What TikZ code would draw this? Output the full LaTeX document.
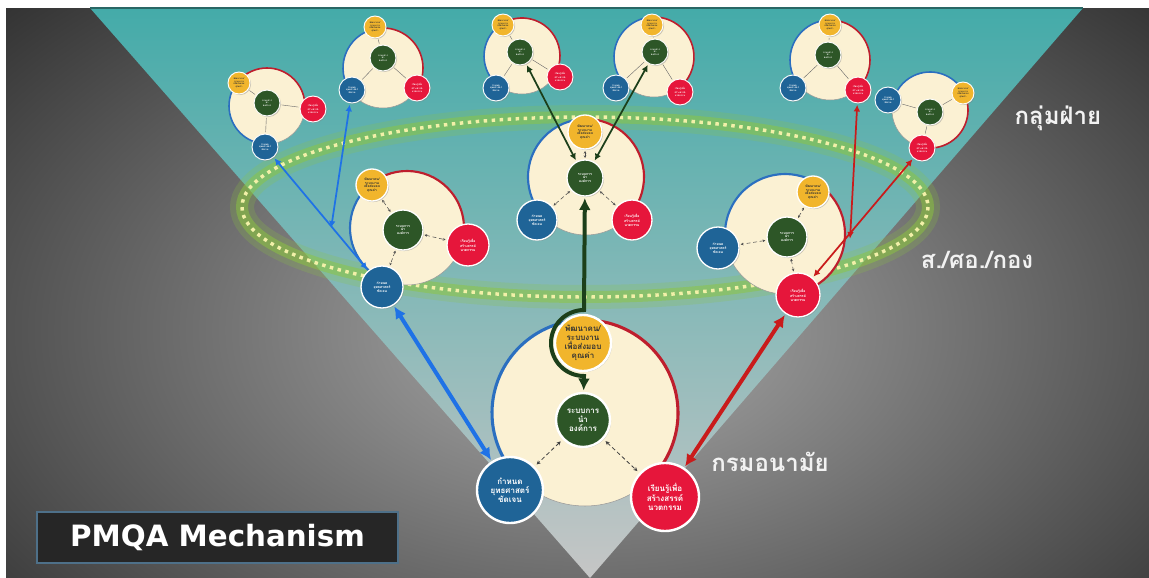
\documentclass[tikz,border=0pt]{standalone}
\usepackage{fontspec}
\usetikzlibrary{arrows.meta,shadows}
\newfontfamily\thai[Script=Thai]{Loma}
\newfontfamily\headfont{DejaVu Sans}

\definecolor{cream}{HTML}{FBF1D3}
\definecolor{leaf}{HTML}{2D5627}
\definecolor{sun}{HTML}{F1B52C}
\definecolor{sea}{HTML}{1F6497}
\definecolor{rose}{HTML}{E6163B}
\definecolor{arcblue}{HTML}{2B6FC0}
\definecolor{arcred}{HTML}{BE1E2D}
\definecolor{linkblue}{HTML}{1F72E6}
\definecolor{linkred}{HTML}{C91B1B}
\definecolor{linkgreen}{HTML}{1C3F1A}
\definecolor{tealtop}{HTML}{44ABA9}
\definecolor{tealmid}{HTML}{82A6AA}
\definecolor{vbottom}{HTML}{C6C6C6}
\definecolor{bgmid}{HTML}{ABABAB}
\definecolor{bgdark}{HTML}{161616}
\definecolor{glow}{HTML}{8CC63F}
\definecolor{dotyellow}{HTML}{F2F0A8}
\definecolor{boxline}{HTML}{4E7089}
\definecolor{boxfill}{HTML}{262626}

\newcommand{\txtY}{พัฒนาคน/\\ระบบงาน\\เพื่อส่งมอบ\\คุณค่า}
\newcommand{\txtG}{ระบบการ\\นำ\\องค์การ}
\newcommand{\txtB}{กำหนด\\ยุทธศาสตร์\\ชัดเจน}
\newcommand{\txtR}{เรียนรู้เพื่อ\\สร้างสรรค์\\นวตกรรม}

\begin{document}
\begin{tikzpicture}[x=0.75pt,y=0.75pt,yscale=-1,xscale=1,
  big/.style={circle,fill=cream,draw=black!40,line width=0.4pt,inner sep=0pt,outer sep=0pt},
  dot/.style={circle,draw=white,inner sep=0pt,align=center,
    drop shadow={opacity=0.4,shadow xshift=0.8pt,shadow yshift=-0.8pt}},
  gdot/.style={dot,fill=leaf,text=white},
  ydot/.style={dot,fill=sun,text=black!80},
  bdot/.style={dot,fill=sea,text=white},
  rdot/.style={dot,fill=rose,text=white},
  mainfs/.style={line width=1.8pt,font=\thai\bfseries\fontsize{6}{6.6}\selectfont},
  midfs/.style={line width=1pt,font=\thai\bfseries\fontsize{2.6}{2.9}\selectfont},
  topfs/.style={line width=0.7pt,font=\thai\bfseries\fontsize{1.8}{2}\selectfont},
  bluearc/.style={draw=arcblue},
  redarc/.style={draw=arcred},
  dasharr/.style={densely dashed,black!75,line width=0.6pt,
    {Stealth[length=3pt,width=3pt]}-{Stealth[length=3pt,width=3pt]},shorten <=2pt,shorten >=2pt},
  dashsmall/.style={densely dashed,black!70,line width=0.4pt,
    {Stealth[length=2pt,width=2pt]}-{Stealth[length=2pt,width=2pt]},shorten <=1pt,shorten >=1pt},
  tline/.style={black!60,line width=0.3pt,shorten <=1pt,shorten >=1pt},
  thicklink/.style={line width=3pt,{Latex[length=9pt,width=9pt]}-{Latex[length=9pt,width=9pt]},shorten <=1pt,shorten >=1pt},
  thinlink/.style={line width=1.3pt,{Latex[length=5pt,width=5pt]}-{Latex[length=5pt,width=5pt]},shorten <=1pt,shorten >=1pt},
  label/.style={text=white!95!black,font=\thai\bfseries\fontsize{18}{20}\selectfont}]
\useasboundingbox (0,0) rectangle (1149,578);

%Background
\fill[white] (0,0) rectangle (1149,578);
\begin{scope}
\clip (6,8) rectangle (1149,578);
\shade[inner color=bgmid,outer color=bgdark] (-390,-270) rectangle (1570,930);
\end{scope}
%Shape: V
\shade[top color=tealtop,middle color=tealmid,bottom color=vbottom] (90,8) -- (1083,8) -- (590,578) -- cycle;
\draw[tealtop!60!black,line width=1.5pt] (90,8) -- (1083,8);

%Shape: Ellipse (glow and dotted ring)
\draw[glow,opacity=0.22,line width=18pt] (585,207) ellipse [x radius=343,y radius=90];
\draw[glow,opacity=0.5,line width=9pt] (585,207) ellipse [x radius=343,y radius=90];
\draw[dotyellow,line width=2.6pt,dash pattern=on 2.6pt off 3.4pt] (585,207) ellipse [x radius=343,y radius=90];

%Cluster: top 1
\node[big,minimum size=57pt] (bigT1) at (267,106) {};
\draw[bluearc,line width=1.2pt] (bigT1.141) arc[start angle=-141,end angle=-267,radius=38];
\draw[redarc,line width=1.2pt] (bigT1.141) arc[start angle=-141,end angle=4,radius=38];
\node[gdot,topfs,minimum size=19.5pt] (gT1) at (267,103) {\txtG};
\node[ydot,topfs,minimum size=16.5pt] (yT1) at (239,83) {\txtY};
\node[bdot,topfs,minimum size=19.5pt] (bT1) at (265,147) {\txtB};
\node[rdot,topfs,minimum size=19.5pt] (rT1) at (313,109) {\txtR};
\draw[tline] (gT1) -- (yT1);
\draw[tline] (gT1) -- (bT1);
\draw[tline] (gT1) -- (rT1);

%Cluster: top 2
\node[big,minimum size=60pt] (bigT2) at (383,68) {};
\draw[bluearc,line width=1.2pt] (bigT2.101) arc[start angle=-101,end angle=-215,radius=40];
\draw[redarc,line width=1.2pt] (bigT2.101) arc[start angle=-101,end angle=30,radius=40];
\node[gdot,topfs,minimum size=19.5pt] (gT2) at (383,58) {\txtG};
\node[ydot,topfs,minimum size=16.5pt] (yT2) at (375,27) {\txtY};
\node[bdot,topfs,minimum size=19.5pt] (bT2) at (352,90) {\txtB};
\node[rdot,topfs,minimum size=19.5pt] (rT2) at (417,88) {\txtR};
\draw[tline] (gT2) -- (yT2);
\draw[tline] (gT2) -- (bT2);
\draw[tline] (gT2) -- (rT2);

%Cluster: top 3
\node[big,minimum size=57pt] (bigT3) at (522,56) {};
\draw[bluearc,line width=1.2pt] (bigT3.121) arc[start angle=-121,end angle=-231,radius=38];
\draw[redarc,line width=1.2pt] (bigT3.121) arc[start angle=-121,end angle=29,radius=38];
\node[gdot,topfs,minimum size=19.5pt] (gT3) at (520,52) {\txtG};
\node[ydot,topfs,minimum size=16.5pt] (yT3) at (503,25) {\txtY};
\node[bdot,topfs,minimum size=19.5pt] (bT3) at (496,88) {\txtB};
\node[rdot,topfs,minimum size=19.5pt] (rT3) at (560,77) {\txtR};
\draw[tline] (gT3) -- (yT3);
\draw[tline] (gT3) -- (bT3);
\draw[tline] (gT3) -- (rT3);

%Cluster: top 4
\node[big,minimum size=60pt] (bigT4) at (654,57) {};
\draw[bluearc,line width=1.2pt] (bigT4.94) arc[start angle=-94,end angle=-219,radius=40];
\draw[redarc,line width=1.2pt] (bigT4.94) arc[start angle=-94,end angle=52,radius=40];
\node[gdot,topfs,minimum size=19.5pt] (gT4) at (655,52) {\txtG};
\node[ydot,topfs,minimum size=16.5pt] (yT4) at (652,25) {\txtY};
\node[bdot,topfs,minimum size=19.5pt] (bT4) at (616,88) {\txtB};
\node[rdot,topfs,minimum size=19.5pt] (rT4) at (680,92) {\txtR};
\draw[tline] (gT4) -- (yT4);
\draw[tline] (gT4) -- (bT4);
\draw[tline] (gT4) -- (rT4);

%Cluster: top 5
\node[big,minimum size=60pt] (bigT5) at (830,60) {};
\draw[bluearc,line width=1.2pt] (bigT5.90) arc[start angle=-90,end angle=-217,radius=40];
\draw[redarc,line width=1.2pt] (bigT5.90) arc[start angle=-90,end angle=47,radius=40];
\node[gdot,topfs,minimum size=19.5pt] (gT5) at (828,55) {\txtG};
\node[ydot,topfs,minimum size=16.5pt] (yT5) at (830,25) {\txtY};
\node[bdot,topfs,minimum size=19.5pt] (bT5) at (793,88) {\txtB};
\node[rdot,topfs,minimum size=19.5pt] (rT5) at (858,90) {\txtR};
\draw[tline] (gT5) -- (yT5);
\draw[tline] (gT5) -- (bT5);
\draw[tline] (gT5) -- (rT5);

%Cluster: top 6
\node[big,minimum size=57pt] (bigT6) at (930,110) {};
\draw[bluearc,line width=1.2pt] (bigT6.27) arc[start angle=-27,end angle=-167,radius=38];
\draw[redarc,line width=1.2pt] (bigT6.27) arc[start angle=-27,end angle=102,radius=38];
\node[gdot,topfs,minimum size=19.5pt] (gT6) at (930,112) {\txtG};
\node[ydot,topfs,minimum size=16.5pt] (yT6) at (963,93) {\txtY};
\node[bdot,topfs,minimum size=19.5pt] (bT6) at (888,100) {\txtB};
\node[rdot,topfs,minimum size=19.5pt] (rT6) at (922,148) {\txtR};
\draw[tline] (gT6) -- (yT6);
\draw[tline] (gT6) -- (bT6);
\draw[tline] (gT6) -- (rT6);

%Cluster: centre
\node[big,minimum size=87pt] (bigC) at (586,177) {};
\draw[bluearc,line width=1.6pt] (bigC.91) arc[start angle=-91,end angle=-221,radius=58];
\draw[redarc,line width=1.6pt] (bigC.91) arc[start angle=-91,end angle=43,radius=58];
\node[gdot,midfs,minimum size=27pt] (gC) at (585,178) {\txtG};
\node[ydot,midfs,minimum size=25.5pt] (yC) at (585,132) {\txtY};
\node[bdot,midfs,minimum size=30pt] (bC) at (537,220) {\txtB};
\node[rdot,midfs,minimum size=30pt] (rC) at (632,220) {\txtR};
\draw[dashsmall] (gC) -- (yC);
\draw[dashsmall] (gC) -- (bC);
\draw[dashsmall] (gC) -- (rC);

%Cluster: left
\node[big,minimum size=85.5pt] (bigL) at (407,228) {};
\draw[bluearc,line width=1.6pt] (bigL.129) arc[start angle=-129,end angle=-247,radius=57];
\draw[redarc,line width=1.6pt] (bigL.129) arc[start angle=-129,end angle=16,radius=57];
\node[gdot,midfs,minimum size=30pt] (gL) at (403,230) {\txtG};
\node[ydot,midfs,minimum size=24pt] (yL) at (372,185) {\txtY};
\node[bdot,midfs,minimum size=31.5pt] (bL) at (382,287) {\txtB};
\node[rdot,midfs,minimum size=31.5pt] (rL) at (468,245) {\txtR};
\draw[dashsmall] (gL) -- (yL);
\draw[dashsmall] (gL) -- (bL);
\draw[dashsmall] (gL) -- (rL);

%Cluster: right
\node[big,minimum size=90pt] (bigR) at (785,234) {};
\draw[bluearc,line width=1.6pt] (bigR.56) arc[start angle=-56,end angle=-192,radius=60];
\draw[redarc,line width=1.6pt] (bigR.56) arc[start angle=-56,end angle=78,radius=60];
\node[gdot,midfs,minimum size=30pt] (gR) at (787,237) {\txtG};
\node[ydot,midfs,minimum size=24pt] (yR) at (813,192) {\txtY};
\node[bdot,midfs,minimum size=31.5pt] (bR) at (718,248) {\txtB};
\node[rdot,midfs,minimum size=33pt] (rR) at (798,295) {\txtR};
\draw[dashsmall] (gR) -- (yR);
\draw[dashsmall] (gR) -- (bR);
\draw[dashsmall] (gR) -- (rR);

%Cluster: main
\node[big,minimum size=139.5pt] (bigM) at (585,413) {};
\draw[bluearc,line width=2.3pt] (bigM.92) arc[start angle=-92,end angle=-226,radius=93];
\draw[redarc,line width=2.3pt] (bigM.92) arc[start angle=-92,end angle=46,radius=93];
\node[gdot,mainfs,minimum size=40.5pt] (gM) at (583,420) {\txtG};
\node[bdot,mainfs,minimum size=49.5pt] (bM) at (510,490) {\txtB};
\node[rdot,mainfs,minimum size=51pt] (rM) at (665,497) {\txtR};
\draw[dasharr] (gM) -- (bM);
\draw[dasharr] (gM) -- (rM);
%Thick green link round the yellow circle
\draw[linkgreen,thicklink] (gC) -- (584,310) arc[start angle=-90,end angle=-270,radius=33] -- (gM);
\node[ydot,mainfs,minimum size=42pt] (yM) at (583,343) {\txtY};

%Links
\coordinate (aL) at (331,229);
\coordinate (aR) at (850,240);
\draw[linkgreen,thinlink] (gT3) -- (gC);
\draw[linkgreen,thinlink] (gT4) -- (gC);
\draw[linkblue,thinlink] (bT1) -- (bL);
\draw[linkblue,thinlink] (bT2) -- (aL);
\draw[linkred,thinlink] (rT5) -- (aR);
\draw[linkred,thinlink] (rT6) -- (rR);
\draw[linkblue,thicklink] (bM) -- (bL);
\draw[linkred,thicklink] (rM) -- (rR);

% Text Node
\node[label] (lblGroup) at (1058,118) {กลุ่มฝ่าย};
% Text Node
\node[label] (lblOffice) at (977,260) {ส./ศอ./กอง};
% Text Node
\node[label] (lblDept) at (770,462) {กรมอนามัย};
% Text Node
\node[draw=boxline,fill=boxfill,line width=0.8pt,minimum width=270.75pt,minimum height=38.25pt,
  text=white,font=\headfont\bfseries\fontsize{22}{24}\selectfont] (pmqa) at (217.5,537.5) {PMQA Mechanism};
\end{tikzpicture}
\end{document}
